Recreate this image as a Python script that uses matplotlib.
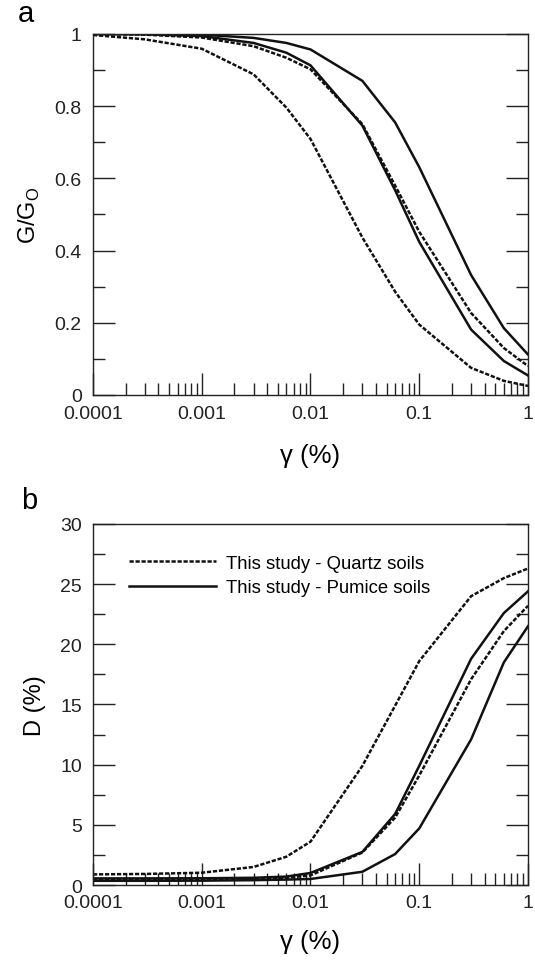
import numpy as np
import matplotlib
matplotlib.use('Agg')
import matplotlib.pyplot as plt
from matplotlib.ticker import LogLocator, FuncFormatter, MultipleLocator, NullFormatter

plt.rcParams.update({'font.family': ['Liberation Sans', 'DejaVu Sans'],
                     'font.size': 14,
                     'axes.linewidth': 1.0,
                     'axes.edgecolor': '#222222'})

# shear strain (%)
gamma = [0.0001, 0.0003, 0.001, 0.003, 0.006, 0.01, 0.03, 0.06, 0.1, 0.3, 0.6, 1.0]

# normalised shear modulus G/Go
g_quartz_1 = [0.997, 0.985, 0.959, 0.888, 0.796, 0.709, 0.436, 0.286, 0.195, 0.075, 0.039, 0.025]
g_quartz_2 = [1.0, 0.998, 0.990, 0.966, 0.934, 0.902, 0.750, 0.580, 0.452, 0.227, 0.130, 0.080]
g_pumice_1 = [1.0, 0.999, 0.994, 0.975, 0.948, 0.913, 0.746, 0.567, 0.424, 0.181, 0.094, 0.054]
g_pumice_2 = [1.0, 1.0, 0.998, 0.989, 0.975, 0.957, 0.870, 0.755, 0.631, 0.332, 0.185, 0.112]

# damping ratio D (%)
d_quartz_1 = [0.88, 0.92, 1.02, 1.5, 2.35, 3.6, 9.9, 14.9, 18.6, 24.0, 25.5, 26.3]
d_quartz_2 = [0.45, 0.45, 0.46, 0.5, 0.6, 0.8, 2.7, 5.6, 9.1, 17.1, 21.1, 23.2]
d_pumice_1 = [0.55, 0.55, 0.56, 0.6, 0.7, 1.0, 2.75, 5.9, 9.9, 18.8, 22.6, 24.4]
d_pumice_2 = [0.35, 0.35, 0.36, 0.4, 0.45, 0.5, 1.1, 2.57, 4.7, 12.1, 18.5, 21.5]

lw = 1.8
dash = (1.7, 0.7)
col = '#111111'

fig = plt.figure(figsize=(5.35, 9.62), dpi=100)
ax1 = fig.add_axes([0.1738, 0.5884, 0.8131, 0.3753])
ax2 = fig.add_axes([0.1738, 0.0790, 0.8131, 0.3753])


def style_axis(ax, pad_x, xlabel_pad):
    ax.set_xscale('log')
    ax.set_xlim(0.0001, 1)
    ax.xaxis.set_major_locator(LogLocator(base=10, subs=(1.0,)))
    ax.xaxis.set_minor_locator(LogLocator(base=10, subs=np.arange(2, 10)))
    ax.xaxis.set_major_formatter(FuncFormatter(lambda v, p: '{:g}'.format(v)))
    ax.xaxis.set_minor_formatter(NullFormatter())
    ax.tick_params(axis='x', which='both', direction='in', top=False, bottom=True,
                   pad=pad_x, colors='#222222')
    ax.tick_params(axis='y', which='both', direction='in', left=True, right=True,
                   pad=8, colors='#222222')
    ax.tick_params(which='major', length=15.8, width=1.0)
    ax.tick_params(which='minor', length=8.6, width=1.0)
    ax.set_xlabel('γ (%)', fontsize=18.5, labelpad=xlabel_pad)


# (a) modulus degradation
ax1.plot(gamma, g_quartz_1, color=col, lw=lw, dashes=dash)
ax1.plot(gamma, g_quartz_2, color=col, lw=lw, dashes=dash)
ax1.plot(gamma, g_pumice_1, color=col, lw=lw)
ax1.plot(gamma, g_pumice_2, color=col, lw=lw)
style_axis(ax1, 7, 15)
ax1.set_ylim(0, 1)
ax1.yaxis.set_major_locator(MultipleLocator(0.2))
ax1.yaxis.set_minor_locator(MultipleLocator(0.1))
ax1.yaxis.set_major_formatter(FuncFormatter(lambda v, p: '{:g}'.format(round(v, 1))))
ax1.set_ylabel('G/G$_\\mathregular{O}$', fontsize=17, labelpad=9)

# (b) damping
ax2.plot(gamma, d_quartz_1, color=col, lw=lw, dashes=dash, label='This study - Quartz soils')
ax2.plot(gamma, d_quartz_2, color=col, lw=lw, dashes=dash)
ax2.plot(gamma, d_pumice_1, color=col, lw=lw, label='This study - Pumice soils')
ax2.plot(gamma, d_pumice_2, color=col, lw=lw)
style_axis(ax2, 6.5, 13)
ax2.set_ylim(0, 30)
ax2.yaxis.set_major_locator(MultipleLocator(5))
ax2.yaxis.set_minor_locator(MultipleLocator(2.5))
ax2.set_ylabel('D (%)', fontsize=17, labelpad=10)
ax2.legend(loc='upper left', bbox_to_anchor=(0.083, 0.915), frameon=False,
           fontsize=13.3, handlelength=4.7, handletextpad=0.55, labelspacing=0.4,
           borderpad=0, borderaxespad=0)

fig.text(0.034, 0.977, 'a', fontsize=21, va='baseline')
fig.text(0.040, 0.471, 'b', fontsize=21, va='baseline')

fig.savefig('out.png', dpi=100)
